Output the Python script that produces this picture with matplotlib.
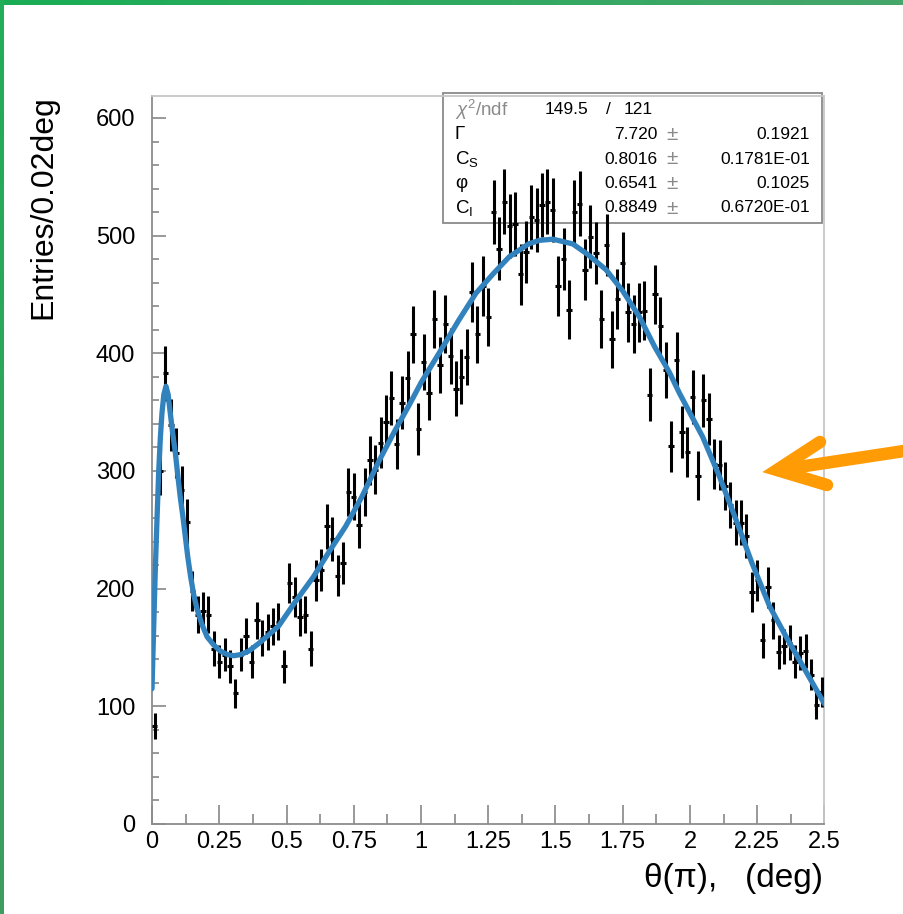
import numpy as np
import matplotlib
matplotlib.use("Agg")
import matplotlib.pyplot as plt
from matplotlib.patches import Rectangle
from matplotlib.lines import Line2D

plt.rcParams['font.family'] = ['Liberation Sans', 'DejaVu Sans']
plt.rcParams['mathtext.fontset'] = 'custom'
plt.rcParams['mathtext.rm'] = 'Liberation Sans'
plt.rcParams['mathtext.it'] = 'Liberation Sans:italic'

# histogram: 125 bins of 0.02 deg
bin_centers = np.round(np.arange(0.01, 2.5, 0.02), 3)
counts = [83, 300, 383, 339, 315, 284, 257, 198, 178, 181,
          178, 149, 138, 144, 134, 111, 144, 160, 138, 173,
          158, 163, 168, 172, 134, 205, 193, 176, 178, 149,
          207, 216, 253, 242, 211, 222, 282, 278, 254, 282,
          309, 301, 324, 342, 362, 323, 358, 379, 416, 336,
          393, 366, 429, 390, 425, 398, 370, 380, 397, 452,
          416, 457, 431, 520, 489, 529, 508, 510, 467, 486,
          516, 513, 526, 529, 522, 457, 480, 437, 520, 527,
          471, 499, 485, 429, 492, 412, 446, 477, 435, 425,
          435, 436, 365, 450, 423, 386, 321, 394, 333, 316,
          363, 296, 360, 344, 306, 305, 287, 271, 256, 256,
          245, 197, 207, 156, 201, 173, 146, 151, 154, 138,
          145, 147, 127, 101, 112]
# weighted entries: errors a bit above sqrt(N)
err_scale = 1.2

# fitted curve
fit_x = [0.0, 0.006, 0.012, 0.018, 0.025, 0.031, 0.037, 0.044, 0.052, 0.060,
         0.068, 0.077, 0.087, 0.096, 0.105, 0.115, 0.124, 0.133, 0.143, 0.155,
         0.167, 0.185, 0.205, 0.23, 0.254, 0.28, 0.304, 0.33, 0.36, 0.40,
         0.47, 0.53, 0.60, 0.66, 0.72, 0.78, 0.845, 0.90, 0.956, 1.0,
         1.08, 1.14, 1.204, 1.27, 1.328, 1.40, 1.44, 1.49, 1.564, 1.62,
         1.688, 1.75, 1.812, 1.87, 1.923, 1.961, 2.047, 2.11, 2.172, 2.23,
         2.296, 2.36, 2.42, 2.5]
fit_y = [115, 165, 214, 255, 300, 328, 349, 365, 372, 365,
         349, 332, 315, 296, 278, 261, 244, 227, 211, 195,
         183, 170, 159, 152, 147, 144, 143, 144, 147, 154,
         168, 188, 210, 232, 253, 278, 309, 333, 356, 375,
         405, 428, 451, 468, 482, 493, 496, 497, 493, 484,
         471, 453, 431, 405, 384, 366, 329, 295, 258, 222,
         185, 158, 134, 102]

x_ticks = [0, 0.25, 0.5, 0.75, 1, 1.25, 1.5, 1.75, 2, 2.25, 2.5]
x_ticklabels = ['0', '0.25', '0.5', '0.75', '1', '1.25', '1.5', '1.75', '2', '2.25', '2.5']
y_ticks = [0, 100, 200, 300, 400, 500, 600]

par_names = ['\u0393', 'C$_{\\mathrm{S}}$', '\u03c6', 'C$_{\\mathrm{I}}$']
par_values = ['7.720', '0.8016', '0.6541', '0.8849']
par_errors = ['0.1921', '0.1781E-01', '0.1025', '0.6720E-01']

W, H = 904, 914
fig = plt.figure(figsize=(W / 100, H / 100), dpi=100)
fig.patch.set_facecolor('white')


def fx(px):
    return px / W


def fy(py):
    return 1 - py / H


L, R, T, B = 152, 824.5, 96, 824
ax = fig.add_axes([fx(L), fy(B), fx(R) - fx(L), fy(T) - fy(B)])
ax.patch.set_alpha(0)

yerr = err_scale * np.sqrt(counts)
ax.errorbar(bin_centers, counts, xerr=0.01, yerr=yerr, fmt='none',
            ecolor='black', elinewidth=2.2, capsize=0, zorder=3)
ax.plot(fit_x, fit_y, color='#3282be', lw=3.8, zorder=4,
        solid_capstyle='round', solid_joinstyle='round')

ax.set_xlim(0, 2.5)
ax.set_ylim(0, (B - T) / 1.1767)
ax.set_xticks(x_ticks)
ax.set_xticklabels(x_ticklabels)
ax.set_xticks(np.arange(0.125, 2.5, 0.25), minor=True)
ax.set_yticks(y_ticks)
ax.set_yticks(np.arange(0, 620, 20), minor=True)

ax.tick_params(axis='both', which='both', direction='in', colors='#888888',
               labelcolor='black', labelsize=17, width=1.2)
ax.tick_params(axis='x', which='major', length=14, pad=5)
ax.tick_params(axis='x', which='minor', length=7)
ax.tick_params(axis='y', which='major', length=10, pad=12)
ax.tick_params(axis='y', which='minor', length=5)

for side in ['left', 'bottom']:
    ax.spines[side].set_color('#8c8c8c')
    ax.spines[side].set_linewidth(1.3)
for side in ['top', 'right']:
    ax.spines[side].set_color('#c6c6c6')
    ax.spines[side].set_linewidth(1.3)

# fit statistics box
tf = fig.transFigure
box = Rectangle((fx(443), fy(223)), fx(822) - fx(443), fy(93) - fy(223),
                transform=tf, facecolor='white', edgecolor='#8a8a8a',
                lw=1.3, zorder=1, clip_on=False)
ax.add_patch(box)
fs = 12.5
ax.text(fx(455), fy(110), r'$\chi^2$/ndf', transform=tf, fontsize=13.5,
        color='#8a8a8a', ha='left', va='center', zorder=2)
ax.text(fx(588), fy(110), '149.5', transform=tf, fontsize=fs, ha='right',
        va='center', zorder=2)
ax.text(fx(608), fy(110), '/', transform=tf, fontsize=fs, ha='center',
        va='center', zorder=2)
ax.text(fx(653), fy(110), '121', transform=tf, fontsize=fs, ha='right',
        va='center', zorder=2)
rows = [134.5, 159, 183.5, 208]
for yy, name, val, err in zip(rows, par_names, par_values, par_errors):
    ax.text(fx(455), fy(yy), name, transform=tf, fontsize=13.5, ha='left',
            va='center', zorder=2)
    ax.text(fx(658), fy(yy), val, transform=tf, fontsize=fs, ha='right',
            va='center', zorder=2)
    ax.text(fx(672), fy(yy), '\u00b1', transform=tf, fontsize=15,
            color='#8a8a8a', ha='center', va='center', zorder=2)
    ax.text(fx(810), fy(yy), err, transform=tf, fontsize=fs, ha='right',
            va='center', zorder=2)

# axis titles
fig.text(fx(43), fy(95), 'Entries/0.02deg', rotation=90, fontsize=23,
         ha='center', va='top')
fig.text(fx(823), fy(878), '\u03b8(\u03c0),   (deg)', fontsize=24,
         ha='right', va='center')

# green border along top and left
top_ax = fig.add_axes([0, fy(5), 1, fy(0) - fy(5)])
top_ax.imshow(np.linspace(0, 1, 256)[None, :], aspect='auto',
              cmap=matplotlib.colors.LinearSegmentedColormap.from_list(
                  'g1', ['#1aad55', '#46a66b']))
top_ax.axis('off')
left_ax = fig.add_axes([0, 0, fx(4), 1])
left_ax.imshow(np.linspace(0, 1, 256)[:, None], aspect='auto',
               cmap=matplotlib.colors.LinearSegmentedColormap.from_list(
                   'g2', ['#22ae58', '#3d9d5d']))
left_ax.axis('off')

# orange arrow
orange = '#ff9b05'
fig.add_artist(Line2D([fx(779), fx(904)], [fy(470), fy(451)], color=orange,
                      lw=9, solid_capstyle='round', transform=tf))
fig.add_artist(Line2D([fx(820), fx(777), fx(827)], [fy(442), fy(470), fy(485)],
                      color=orange, lw=9, solid_capstyle='round',
                      solid_joinstyle='miter', transform=tf))

fig.savefig('out.png', dpi=100)
